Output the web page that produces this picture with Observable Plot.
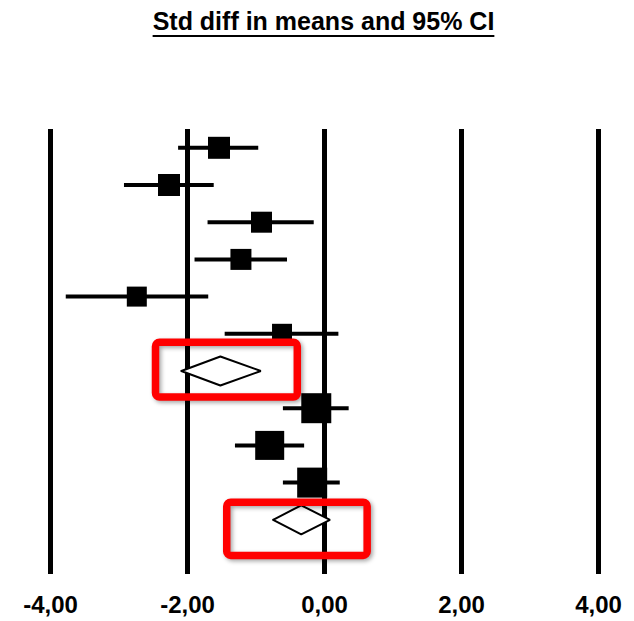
<!DOCTYPE html>
<html><head><meta charset="utf-8">
<script src="https://cdn.jsdelivr.net/npm/d3@7"></script>
<script src="https://cdn.jsdelivr.net/npm/@observablehq/plot@0.6"></script>
<style>
body{margin:0;background:#fff;}
#title{height:50px;box-sizing:border-box;padding-top:9px;padding-left:13px;text-align:center;font:bold 25px/25px "Liberation Sans",Arial,sans-serif;color:#000;white-space:nowrap;}
#title span{text-decoration:underline;text-decoration-thickness:2px;text-underline-offset:5px;}
#chart svg{display:block;}
</style></head><body>
<div id="title"><span>Std diff in means and 95% CI</span></div>
<div id="chart"></div>
<script>
// Individual studies (row index from top)
const studyRow    = [0, 1, 2, 3, 4, 5, 7, 8, 9];
const studyEffect = [-1.54, -2.27, -0.92, -1.22, -2.74, -0.62, -0.12, -0.80, -0.18];
const studyLower  = [-2.13, -2.92, -1.70, -1.89, -3.77, -1.45, -0.60, -1.30, -0.60];
const studyUpper  = [-0.96, -1.61, -0.15, -0.54, -1.69, 0.21, 0.36, -0.29, 0.23];
const studyWeight = [4.84, 4.84, 4.41, 4.41, 4.0, 4.0, 9.0, 8.41, 9.0];

// Pooled (summary) estimates
const summaryRow    = [6, 10];
const summaryEffect = [-1.52, -0.34];
const summaryLower  = [-2.09, -0.75];
const summaryUpper  = [-0.93, 0.08];

// Highlight boxes around the pooled diamonds
const boxX1 = [-2.46, -1.42];
const boxX2 = [-0.39, 0.63];
const boxY1 = [5.24, 9.54];
const boxY2 = [6.71, 10.97];

// Axis
const tickValues = [-4, -2, 0, 2, 4];
const tickLabels = ["-4,00", "-2,00", "0,00", "2,00", "4,00"];

const studies = studyRow.map((r, i) => ({row: r, effect: studyEffect[i], lower: studyLower[i], upper: studyUpper[i], w: studyWeight[i]}));
const summaries = summaryRow.map((r, i) => ({row: r, effect: summaryEffect[i], lower: summaryLower[i], upper: summaryUpper[i]}));
const halfH = 0.39;
const diamondPts = summaries.flatMap((s, g) => [
  {g, x: s.lower, y: s.row},
  {g, x: s.effect, y: s.row - halfH},
  {g, x: s.upper, y: s.row},
  {g, x: s.effect, y: s.row + halfH},
  {g, x: s.lower, y: s.row}
]);
const boxes = boxX1.map((x1, i) => ({x1, x2: boxX2[i], y1: boxY1[i], y2: boxY2[i]}));

const plot = Plot.plot({
  width: 634,
  height: 571,
  marginTop: 79,
  marginBottom: 47,
  marginLeft: 50,
  marginRight: 36,
  style: {fontFamily: "'Liberation Sans', Arial, sans-serif", fontSize: "24px", fontWeight: "bold", color: "#000", background: "#fff"},
  x: {domain: [-4, 4], range: [50, 598], axis: null},
  y: {domain: [0, 10], range: [97.3, 469.3], axis: null},
  r: {type: "sqrt", domain: [0, 9], range: [0, 30 / Math.sqrt(Math.PI)]},
  marks: [
    Plot.ruleX(tickValues, {stroke: "#000", strokeWidth: 5}),
    Plot.axisX({ticks: tickValues, tickFormat: d => tickLabels[tickValues.indexOf(d)], tickSize: 0, tickPadding: 21, fontSize: 24, fontWeight: "bold"}),
    Plot.ruleY(studies, {y: "row", x1: "lower", x2: "upper", stroke: "#000", strokeWidth: 4}),
    Plot.dot(studies, {x: "effect", y: "row", r: "w", symbol: "square", fill: "#000", stroke: "none"}),
    Plot.line(diamondPts, {x: "x", y: "y", z: "g", fill: "#fff", stroke: "#000", strokeWidth: 2, strokeLinejoin: "miter"}),
    Plot.rect(boxes, {x1: "x1", x2: "x2", y1: "y1", y2: "y2", fill: "none", stroke: "#ff0000", strokeWidth: 7.5, rx: 4})
  ]
});
d3.select(plot).selectAll('g[aria-label="rect"]').style("filter", "drop-shadow(2px 2px 2px rgba(0,0,0,0.35))");
document.getElementById("chart").appendChild(plot);
</script>
</body></html>
